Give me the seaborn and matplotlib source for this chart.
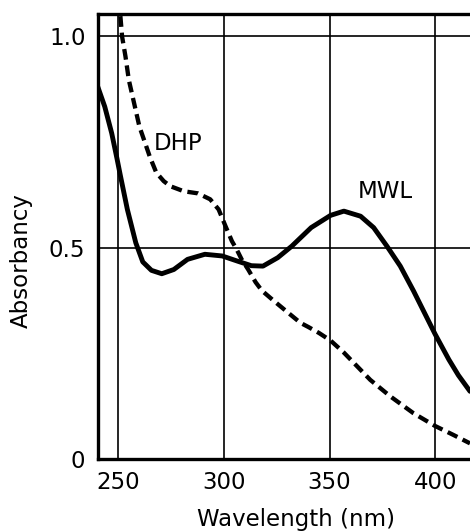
import matplotlib
matplotlib.use("Agg")
import matplotlib.pyplot as plt
import seaborn as sns
import pandas as pd

# Absorption spectra of milled wood lignin (MWL) and dehydrogenation polymer (DHP)
mwl_wavelength = [240.3, 243.6, 246.9, 249.4, 251, 254.3, 258.3, 261.6, 265.7,
                  270.6, 276.3, 282.8, 291, 299.2, 306.9, 313, 318.5, 325.5,
                  332.1, 341.3, 350.5, 356.8, 364.7, 370.9, 377.2, 383.5,
                  389.8, 396, 400, 406.5, 411, 416.5]
mwl_absorbancy = [0.88, 0.833, 0.77, 0.71, 0.67, 0.59, 0.511, 0.466, 0.446,
                  0.438, 0.448, 0.472, 0.484, 0.48, 0.467, 0.457, 0.456, 0.476,
                  0.503, 0.547, 0.576, 0.586, 0.574, 0.547, 0.503, 0.456,
                  0.397, 0.335, 0.295, 0.235, 0.198, 0.16]

dhp_wavelength = [251, 251.8, 253.4, 255, 257.5, 260, 262.5, 264.9, 268, 271.5,
                  274.6, 281, 287.7, 293.5, 297.5, 300.8, 303.8, 306.1, 308.4,
                  311.5, 315, 318, 322.9, 330.6, 336.2, 340, 345, 350.5, 356.7,
                  360, 369.3, 378.8, 389.8, 400, 408.6, 416.5]
dhp_absorbancy = [1.047, 0.999, 0.952, 0.896, 0.841, 0.786, 0.75, 0.715, 0.677,
                  0.657, 0.645, 0.633, 0.628, 0.614, 0.59, 0.55, 0.515, 0.495,
                  0.472, 0.448, 0.418, 0.398, 0.377, 0.345, 0.322, 0.312, 0.298,
                  0.28, 0.252, 0.235, 0.187, 0.148, 0.108, 0.078, 0.057, 0.037]

x_ticks = [250, 300, 350, 400]
y_ticks = [0, 0.5, 1.0]
y_tick_labels = ["0", "0.5", "1.0"]

sns.set_style("white")
plt.rcParams["font.family"] = ["DejaVu Sans"]

df = pd.concat([
    pd.DataFrame({"Wavelength": mwl_wavelength, "Absorbancy": mwl_absorbancy, "Sample": "MWL"}),
    pd.DataFrame({"Wavelength": dhp_wavelength, "Absorbancy": dhp_absorbancy, "Sample": "DHP"}),
])

fig = plt.figure(figsize=(4.70, 5.31), dpi=100)
ax = fig.add_axes([0.2085, 0.1356, 0.7915, 0.838])

sns.lineplot(data=df[df.Sample == "MWL"], x="Wavelength", y="Absorbancy",
             color="black", linewidth=3.5, ax=ax, sort=False, zorder=3,
             solid_joinstyle="round", solid_capstyle="round")
sns.lineplot(data=df[df.Sample == "DHP"], x="Wavelength", y="Absorbancy",
             color="black", linewidth=3.1, ax=ax, sort=False, zorder=3,
             linestyle=(0, (2.5, 1.35)))

ax.set_xlim(240.4, 416.5)
ax.set_ylim(0, 1.052)
ax.set_xticks(x_ticks)
ax.set_yticks(y_ticks)
ax.set_yticklabels(y_tick_labels)

for x in x_ticks:
    ax.axvline(x, color="black", linewidth=1.2, zorder=1)
for y in y_ticks[1:]:
    ax.axhline(y, color="black", linewidth=1.2, zorder=1)

for side in ["left", "top", "bottom"]:
    ax.spines[side].set_color("black")
    ax.spines[side].set_linewidth(2.4)
ax.spines["right"].set_visible(False)

ax.tick_params(axis="both", length=0, labelsize=16.5, colors="black")
ax.tick_params(axis="x", pad=9)
ax.tick_params(axis="y", pad=9)

ax.set_xlabel("Wavelength (nm)", fontsize=16.5, color="black")
ax.set_ylabel("Absorbancy", fontsize=16.5, color="black")
ax.xaxis.set_label_coords(0.532, -0.11)
ax.yaxis.set_label_coords(-0.175, 0.445)

ax.text(278.4, 0.746, "DHP", fontsize=16.5, ha="center", va="center", color="black")
ax.text(376.5, 0.632, "MWL", fontsize=16.5, ha="center", va="center", color="black")

fig.savefig("out.png", dpi=100)
